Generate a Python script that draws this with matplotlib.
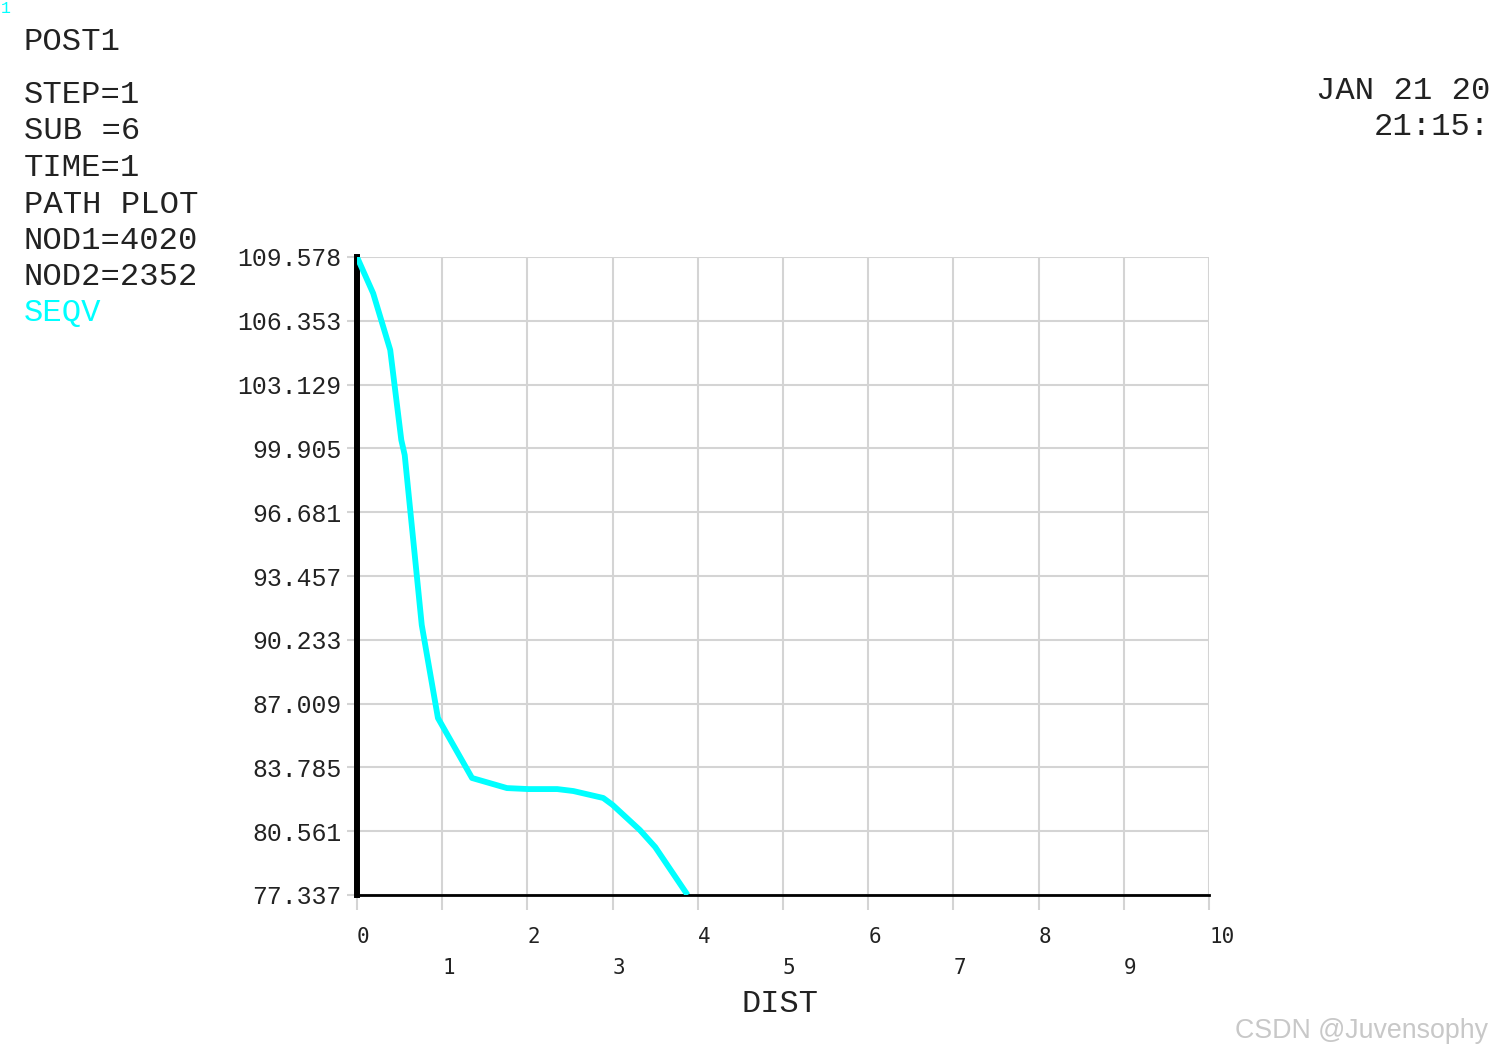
import numpy as np
import matplotlib.pyplot as plt
from matplotlib import transforms

W, H = 1492, 1053

# path data (DIST vs SEQV)
dist = [0.0, 0.19, 0.39, 0.52, 0.56, 0.76, 0.95, 1.35, 1.76, 2.01, 2.35,
        2.54, 2.89, 3.00, 3.32, 3.50, 3.88]
seqv = [109.578, 107.74, 104.88, 100.33, 99.57, 90.98, 86.28, 83.25, 82.74,
        82.69, 82.69, 82.59, 82.24, 81.89, 80.62, 79.76, 77.337]

y_labels = ['77.337', '80.561', '83.785', '87.009', '90.233', '93.457',
            '96.681', '99.905', '103.129', '106.353', '109.578']
x_ticks = list(range(0, 11))

info_lines = [('POST1', 50), ('STEP=1', 103), ('SUB =6', 139), ('TIME=1', 176),
              ('PATH PLOT', 213), ('NOD1=4020', 249), ('NOD2=2352', 285)]

mono = 'Liberation Mono'

fig = plt.figure(figsize=(W / 100, H / 100), dpi=100, facecolor='white')
ax = fig.add_axes([357 / W, 1 - 895 / H, 852 / W, 638 / H])

y_vals = [float(s) for s in y_labels]
ax.plot(dist, seqv, color='#00ffff', lw=4.2, solid_capstyle='butt', zorder=5)

ax.set_xlim(0, 10)
ax.set_ylim(y_vals[0], y_vals[-1])
ax.set_xticks(x_ticks)
ax.set_yticks(y_vals)
ax.set_yticklabels(y_labels, fontfamily=mono, fontsize=17.8, color='#222222')
ax.grid(True, color='#d4d4d4', lw=1.5, zorder=0)
ax.tick_params(axis='y', length=7, width=1.5, color='#d4d4d4', pad=4)
ax.tick_params(axis='x', length=11, width=1.5, color='#d4d4d4', labelbottom=False)

for s in ('top', 'right'):
    ax.spines[s].set_visible(False)
ax.spines['left'].set_linewidth(4.3)
ax.spines['left'].set_color('black')
ax.spines['bottom'].set_linewidth(2)
ax.spines['bottom'].set_color('black')

# staggered x tick labels (even upper, odd lower)
tr = transforms.blended_transform_factory(ax.transData, ax.transAxes)
for v in x_ticks:
    yy = -0.0658 if v % 2 == 0 else -0.1144
    ax.text(v, yy, str(v), transform=tr, ha='left', va='center',
            fontfamily='DejaVu Sans Mono', fontsize=15, color='#222222')

ax.text(0.4965, -0.171, 'DIST', transform=ax.transAxes, ha='center', va='center',
        fontfamily=mono, fontsize=23, color='#222222')

# header annotations
for txt, base in info_lines:
    fig.text(24 / W, 1 - base / H, txt, fontfamily=mono, fontsize=23.2,
             color='#222222', ha='left', va='baseline')
fig.text(24 / W, 1 - 321 / H, 'SEQV', fontfamily=mono, fontsize=23.2,
         color='#00ffff', ha='left', va='baseline')
fig.text(1 / W, 1 - 13 / H, '1', fontfamily=mono, fontsize=12,
         color='#00ffff', ha='left', va='baseline')

fig.text(1490 / W, 1 - 99 / H, 'JAN 21 20', fontfamily=mono, fontsize=23.2,
         color='#222222', ha='right', va='baseline')
fig.text(1490 / W, 1 - 135 / H, '21:15:', fontfamily=mono, fontsize=23.2,
         color='#222222', ha='right', va='baseline')

fig.text(1488 / W, 1 - 1038 / H, 'CSDN @Juvensophy', fontfamily='Liberation Sans',
         fontsize=19.3, color='#c8c8c8', ha='right', va='baseline')

fig.savefig('out.png', dpi=100, facecolor='white')
